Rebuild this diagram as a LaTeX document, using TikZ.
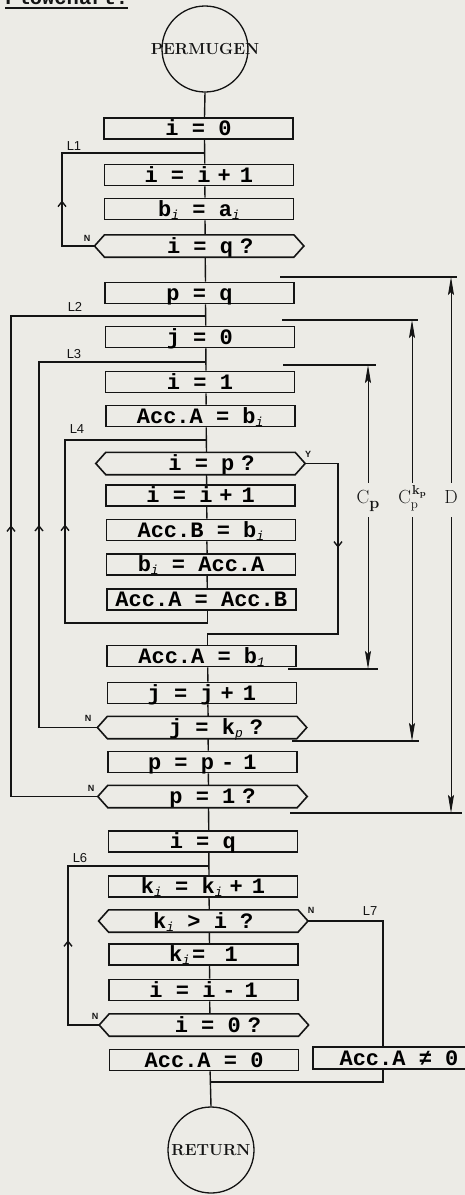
\documentclass[tikz,border=0pt]{standalone}
\usepackage{fontspec}
\setmonofont{Liberation Mono}
\setsansfont{Liberation Sans}
\usetikzlibrary{arrows.meta,decorations.markings,calc}
\definecolor{paper}{RGB}{236,235,230}
\definecolor{ink}{RGB}{20,20,20}

% small lowered index, e.g. b_i
\newcommand\sx[1]{\raisebox{-3pt}{\fontsize{13pt}{13pt}\selectfont\mdseries\itshape #1}}
% operator with typewriter spacing
\newcommand\opx[1]{\hspace{7pt}#1\hspace{9pt}}
\newcommand\qm{\hspace{7pt}?}
% six-sided test box around a node body
\newcommand\hexdraw[1]{\draw[boxline] (#1.north west) -- ([xshift=-10pt]#1.west) -- (#1.south west) -- (#1.south east) -- ([xshift=10pt]#1.east) -- (#1.north east) -- cycle;}

\begin{document}
\begin{tikzpicture}[x=1pt,y=-1pt,
  boxline/.style={draw=ink,line width=1.6pt},
  txt/.style={font=\fontsize{22pt}{22pt}\selectfont\ttfamily\bfseries},
  stepbox/.style={boxline,txt,rectangle,inner sep=0pt,minimum width=189pt,minimum height=21pt,text height=14pt,text depth=0pt},
  testbody/.style={rectangle,inner sep=0pt,minimum width=189pt,minimum height=22pt},
  testtext/.style={txt,inner sep=0pt,text height=14pt,text depth=0pt},
  term/.style={circle,draw=ink,line width=1.3pt,minimum size=86pt,inner sep=0pt,
    label={[font=\fontsize{16pt}{16pt}\selectfont\rmfamily\bfseries,text=ink]center:#1}},
  ln/.style={draw=ink,line width=1.4pt},
  midarrow/.style={postaction={decorate,decoration={markings,
    mark=at position #1 with {\arrow{Straight Barb[length=5pt,width=8pt]}}}}},
  flag/.style={inner sep=0pt,text=ink,font=\fontsize{9pt}{9pt}\selectfont\sffamily\bfseries},
  looplbl/.style={inner sep=0pt,text=ink,font=\fontsize{13pt}{13pt}\selectfont\sffamily},
  tick/.style={draw=ink,line width=1.2pt},
  dim/.style={draw=ink,line width=1pt,-{Stealth[length=18pt,width=6pt,inset=3pt]}},
  dimlbl/.style={inner sep=0pt,minimum height=34pt,text height=12pt,text depth=5pt,text=ink,
    font=\fontsize{19pt}{19pt}\selectfont\rmfamily}
]
\useasboundingbox (0,0) rectangle (465,1195);
\fill[paper] (0,0) rectangle (465,1195);
\clip (0,0) rectangle (465,1195);

% heading, mostly above the top edge
\coordinate (ul1) at (5,8);
\coordinate (ul2) at (128,8);
\node[anchor=base west,inner sep=0pt,text=ink,font=\fontsize{20.5pt}{20.5pt}\selectfont\ttfamily\bfseries] (title) at (5,4.5) {Flowchart:};
\draw[ink,line width=2pt] (ul1) -- (ul2);

% terminals
\node[term=PERMUGEN] (start) at (205,49) {};
\node[term=RETURN] (ret) at (211,1150) {};

% main column
\node[stepbox] (i0)   at (198.5,128.5) {i = 0};
\node[stepbox] (ii1)  at (198.8,175)   {i = i\opx{+}1};
\node[stepbox] (bia)  at (199.0,209)   {b\sx{i} = a\sx{i}};
\node[testbody,label={[testtext,xshift=11pt]center:{i = q\qm}}] (dq) at (199.2,246) {};
\node[stepbox] (pq)   at (199.5,293)   {p = q};
\node[stepbox] (j0)   at (199.8,337)   {j = 0};
\node[stepbox] (i1)   at (200.0,382)   {i = 1};
\node[stepbox] (aab)  at (200.2,416)   {Acc.A = b\sx{i}};
\node[testbody,label={[testtext,xshift=11pt]center:{i = p\qm}}] (dip) at (200.5,463.5) {};
\node[stepbox] (ii2)  at (200.7,495.5) {i = i\opx{+}1};
\node[stepbox] (abb)  at (200.9,530)   {Acc.B = b\sx{i}};
\node[stepbox] (bac)  at (201.1,564.5) {b\sx{i} = Acc.A};
\node[stepbox] (aaab) at (201.3,599.5) {Acc.A = Acc.B};
\node[stepbox] (ab1)  at (201.7,656)   {Acc.A = b\sx{1}};
\node[stepbox] (jj1)  at (201.9,693)   {j = j\opx{+}1};
\node[testbody,label={[testtext,xshift=14pt]center:{j = k\sx{p}\qm}}] (djk) at (202.1,727.5) {};
\node[stepbox] (pp1)  at (202.3,762)   {p = p\opx{-}1};
\node[testbody,label={[testtext,xshift=10pt]center:{p = 1\qm}}] (dp1) at (202.5,796.5) {};
\node[stepbox] (iq)   at (202.8,841.5) {i = q};
\node[stepbox] (kk1)  at (203.0,886.5) {k\sx{i} = k\sx{i}\opx{+}1};
\node[testbody,label={[testtext]center:{k\sx{i} > i ?}}] (dki) at (203.3,921) {};
\node[stepbox] (k1)   at (203.5,954.5) {k\sx{i}\hspace{2pt}= \hspace{6pt}1};
\node[stepbox] (ii3)  at (203.7,990)   {i = i\opx{-}1};
\node[testbody,label={[testtext,xshift=14pt]center:{i = 0\qm}}] (di0) at (203.9,1025) {};
\node[stepbox] (aa0)  at (204.1,1060)  {Acc.A = 0};
\node[stepbox,minimum width=172pt,minimum height=22pt] (ane) at (399,1058) {Acc.A ≠ 0};

\hexdraw{dq}
\hexdraw{dip}
\hexdraw{djk}
\hexdraw{dp1}
\hexdraw{dki}
\hexdraw{di0}

% straight flow down the column
\draw[ln] (start.south) -- ([xshift=6pt]i0.north);
\foreach \a/\b in {i0/ii1,ii1/bia,bia/dq,dq/pq,pq/j0,j0/i1,i1/aab,aab/dip,dip/ii2,ii2/abb,abb/bac,bac/aaab,
  ab1/jj1,jj1/djk,djk/pp1,pp1/dp1,dp1/iq,iq/kk1,kk1/dki,dki/k1,k1/ii3,ii3/di0}
  \draw[ln] ([xshift=6pt]\a.south) -- ([xshift=6pt]\b.north);
\draw[ln] ([xshift=6pt]aa0.south) -- (ret.north);

% loop entry points on the column
\coordinate (L1) at (204.7,153);
\coordinate (L2) at (205.5,316);
\coordinate (L3) at (205.8,362);
\coordinate (L4) at (206.2,440);
\coordinate (L6) at (208.9,866);
\coordinate (J7) at (210.6,1082);
% loop corners
\coordinate (L1c) at (62,153);
\coordinate (L2c) at (11,316);
\coordinate (L3c) at (39,362);
\coordinate (L4c) at (65,623);
\coordinate (L6c) at (68,866);
\coordinate (Yc)  at (338,634);

\draw[ln,midarrow=78pt]  ([xshift=-10pt]dq.west)  -| (L1c) -- (L1);
\draw[ln,midarrow=358pt] ([xshift=-10pt]dp1.west) -| (L2c) -- (L2);
\draw[ln,midarrow=261pt] ([xshift=-10pt]djk.west) -| (L3c) -- (L3);
\draw[ln,midarrow=253pt] ([xshift=6pt]aaab.south) |- (L4c) |- (L4);
\draw[ln,midarrow=116pt] ([xshift=-10pt]di0.west) -| (L6c) -- (L6);
\draw[ln,midarrow=117pt] ([xshift=10pt]dip.east) -| (Yc) -| ([xshift=6pt]ab1.north);
\draw[ln] ([xshift=10pt]dki.east) -| ([xshift=-16pt]ane.north);
\draw[ln] ([xshift=-16pt]ane.south) |- (J7);

% branch flags
\node[flag] (nq)  at (87,238)   {N};
\node[flag] (nk)  at (88,718)   {N};
\node[flag] (np)  at (91,788)   {N};
\node[flag] (ni)  at (95,1016)  {N};
\node[flag] (nki) at (311,910)  {N};
\node[flag] (yp)  at (308,454)  {Y};

% loop names
\node[looplbl] (t1) at (74,146)  {L1};
\node[looplbl] (t2) at (75,307)  {L2};
\node[looplbl] (t3) at (74,354)  {L3};
\node[looplbl] (t4) at (77,429)  {L4};
\node[looplbl] (t6) at (80,858)  {L6};
\node[looplbl] (t7) at (370,911) {L7};

% spans of the loops, measured on the right
\coordinate (Dt1) at (280,277); \coordinate (Dt2) at (457,277);
\coordinate (Kt1) at (282,320); \coordinate (Kt2) at (418,320);
\coordinate (Ct1) at (283,365); \coordinate (Ct2) at (376,365);
\coordinate (Cb1) at (288,669); \coordinate (Cb2) at (378,669);
\coordinate (Kb1) at (292,741); \coordinate (Kb2) at (419,741);
\coordinate (Db1) at (290,813); \coordinate (Db2) at (462,813);
\draw[tick] (Dt1) -- (Dt2);
\draw[tick] (Kt1) -- (Kt2);
\draw[tick] (Ct1) -- (Ct2);
\draw[tick] (Cb1) -- (Cb2);
\draw[tick] (Kb1) -- (Kb2);
\draw[tick] (Db1) -- (Db2);

\node[dimlbl] (Clab) at (368,500) {C\raisebox{-5pt}{\fontsize{16pt}{16pt}\selectfont\bfseries p}};
\node[dimlbl] (Klab) at (412,500) {C\raisebox{-5pt}{\fontsize{13pt}{13pt}\selectfont p}\hspace{-6pt}\raisebox{9pt}{\fontsize{13pt}{13pt}\selectfont\bfseries k\raisebox{-2pt}{\fontsize{9pt}{9pt}\selectfont p}}};
\node[dimlbl] (Dlab) at (451,500) {D};

\draw[dim] (Clab.north) -- (Clab.north |- Ct1);
\draw[dim] (Clab.south) -- (Clab.south |- Cb1);
\draw[dim] (Klab.north) -- (Klab.north |- Kt1);
\draw[dim] (Klab.south) -- (Klab.south |- Kb1);
\draw[dim] (Dlab.north) -- (Dlab.north |- Dt1);
\draw[dim] (Dlab.south) -- (Dlab.south |- Db1);
\end{tikzpicture}
\end{document}
